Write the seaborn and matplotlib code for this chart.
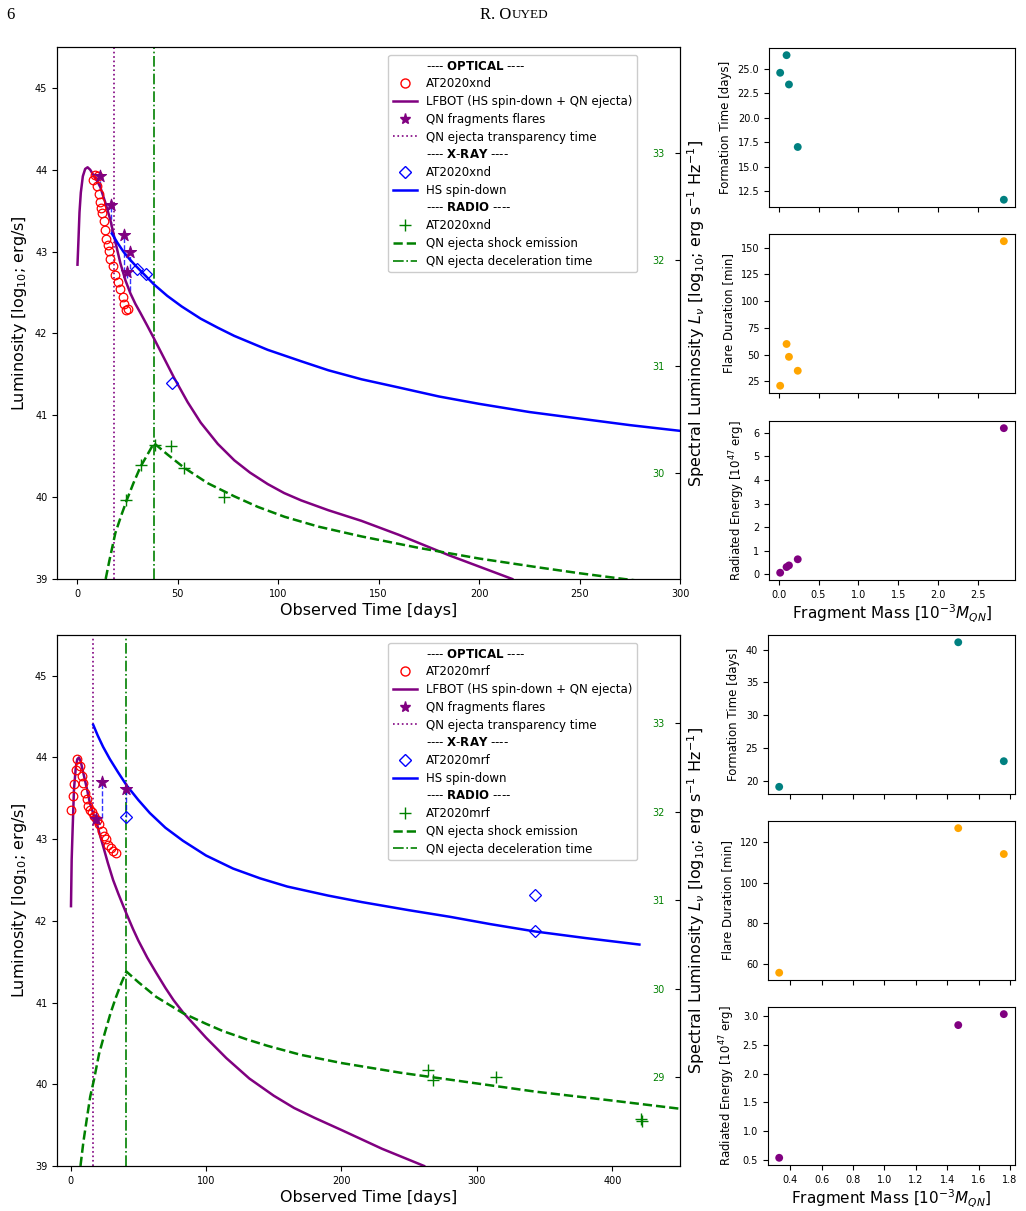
import matplotlib
matplotlib.use('Agg')
import matplotlib.pyplot as plt
from matplotlib.lines import Line2D
from matplotlib.ticker import MultipleLocator
import seaborn as sns

plt.rcParams['font.family'] = ['DejaVu Sans']

# ---------------- AT2020xnd (top) ----------------
xnd_lfbot_t = [0.17, 0.67, 1.17, 1.83, 2.83, 4.0, 5.2, 6.5, 8.2, 10.0, 11.5, 14.0, 16.5, 19.0, 21.5, 24.0,
               26.5, 29.0, 31.5, 35.0, 38.2, 43.0, 48.2, 55.0, 61.5, 70.0, 78.2, 86.0, 94.8, 103.0, 111.5,
               125.0, 141.5, 160, 185, 216.5]
xnd_lfbot_l = [42.84, 43.15, 43.48, 43.72, 43.92, 44.01, 44.03, 44.00, 43.93, 43.86, 43.79, 43.60, 43.39, 43.12, 42.86, 42.65,
               42.49, 42.36, 42.25, 42.09, 41.94, 41.71, 41.46, 41.16, 40.91, 40.65, 40.45, 40.30, 40.16, 40.05, 39.96,
               39.84, 39.71, 39.54, 39.29, 39.0]
xnd_hs_t = [17.3, 20, 23, 26, 29, 33, 38.2, 44.8, 52, 61.5, 70, 78.2, 94.8, 111.5, 125, 141.5,
            160, 180, 200, 225, 250, 275, 300]
xnd_hs_l = [43.22, 43.11, 43.00, 42.91, 42.83, 42.73, 42.60, 42.46, 42.33, 42.18, 42.07, 41.97, 41.80, 41.66, 41.55, 41.44,
            41.34, 41.23, 41.14, 41.04, 40.96, 40.88, 40.81]
xnd_shock_t = [14.2, 16, 19, 22, 24.8, 28, 31.5, 35, 38.2, 45, 53.2, 65, 78.2, 90, 103.2, 120, 141.5,
               170, 200, 230, 250, 272, 300]
xnd_shock_l = [39.0, 39.22, 39.56, 39.78, 39.97, 40.17, 40.37, 40.52, 40.66, 40.52, 40.36, 40.17, 40.01, 39.88, 39.76, 39.64, 39.52,
               39.38, 39.25, 39.14, 39.07, 39.0, 38.92]
xnd_opt_t = [7.8, 9.0, 10.2, 9.8, 10.7, 11.5, 11.8, 12.3, 13.2, 13.8, 14.5, 15.2, 15.8, 16.5, 17.8, 19.0,
             20.2, 21.5, 22.8, 23.5, 24.5, 25.3]
xnd_opt_l = [43.88, 43.93, 43.92, 43.80, 43.70, 43.60, 43.53, 43.47, 43.37, 43.26, 43.16, 43.08, 43.01, 42.91, 42.82, 42.71,
             42.63, 42.54, 42.45, 42.36, 42.29, 42.30]
xnd_xray_t = [29.8, 34.3, 47.0]
xnd_xray_l = [42.79, 42.73, 41.40]
xnd_radio_t = [24.5, 31.8, 38.5, 46.8, 53.2, 73.2]
xnd_radio_l = [39.97, 40.39, 40.64, 40.62, 40.35, 40.00]
xnd_flare_t = [24.6, 26.4, 23.4, 17.0, 11.6]
xnd_flare_l = [42.75, 43.00, 43.20, 43.57, 43.92]
xnd_flare_base = [42.68, 42.52, 42.75, 43.22, 43.80]
xnd_t_transp = 18.5
xnd_t_decel = 38.0
xnd_mass = [0.02, 0.10, 0.13, 0.24, 2.82]
xnd_form = [24.6, 26.4, 23.4, 17.0, 11.6]
xnd_dur = [21, 60, 48, 35, 156]
xnd_energy = [0.07, 0.31, 0.38, 0.64, 6.2]

# ---------------- AT2020mrf (bottom) ----------------
mrf_lfbot_t = [0.3, 0.8, 1.5, 2.5, 3.9, 5.0, 6.2, 7.5, 9.4, 12, 14.3, 17, 19.2, 21.5, 24.1, 27.5, 31.4,
               35.3, 38.7, 41.2, 46.1, 50, 56.6, 63, 70, 76, 83, 100, 115, 132, 150, 165, 180, 200, 230, 261]
mrf_lfbot_l = [42.18, 42.75, 43.12, 43.61, 43.89, 43.98, 44.00, 43.95, 43.81, 43.62, 43.44, 43.30, 43.20, 43.06, 42.91, 42.71, 42.50,
               42.33, 42.19, 42.09, 41.90, 41.76, 41.55, 41.37, 41.18, 41.03, 40.88, 40.57, 40.32, 40.07, 39.86, 39.71, 39.59,
               39.44, 39.21, 39.0]
mrf_hs_t = [16.7, 20, 24, 29, 35, 41.3, 50, 58.5, 70, 83, 100, 120, 140, 160, 190, 215, 250, 280, 310, 343, 380, 420]
mrf_hs_l = [44.40, 44.27, 44.13, 43.98, 43.82, 43.66, 43.48, 43.32, 43.14, 42.98, 42.80, 42.64, 42.52, 42.42, 42.31, 42.23,
            42.13, 42.05, 41.96, 41.87, 41.79, 41.71]
mrf_shock_t = [7.3, 9.5, 12.2, 14.5, 17.2, 21, 25.3, 29.5, 33.6, 37.5, 41.2, 50, 63.2, 83, 100, 112.6, 130, 145.5,
               170, 200, 244, 300, 343, 400, 450]
mrf_shock_l = [39.0, 39.30, 39.60, 39.85, 40.05, 40.37, 40.63, 40.87, 41.07, 41.24, 41.38, 41.25, 41.07, 40.87, 40.74, 40.65, 40.55, 40.47,
               40.36, 40.26, 40.14, 40.01, 39.91, 39.80, 39.70]
mrf_opt_t = [0.3, 1.5, 2.5, 3.7, 4.9, 6.9, 8.2, 9.4, 10.6, 11.9, 13.0, 14.3, 15.5, 17.2, 19.2, 21.1, 22.9, 24.6,
             26.1, 27.8, 29.7, 31.4, 33.4]
mrf_opt_l = [43.36, 43.53, 43.67, 43.85, 43.98, 43.90, 43.77, 43.69, 43.57, 43.49, 43.41, 43.36, 43.33, 43.28, 43.24, 43.18, 43.10, 43.04,
             43.00, 42.93, 42.89, 42.86, 42.83]
mrf_xray_t = [40.8, 342.7, 342.7]
mrf_xray_l = [43.27, 42.32, 41.87]
mrf_radio_t = [264.1, 267.3, 314.1, 421.4, 421.6]
mrf_radio_l = [40.18, 40.05, 40.09, 39.58, 39.55]
mrf_flare_t = [19.1, 41.1, 23.0]
mrf_flare_l = [43.25, 43.62, 43.70]
mrf_flare_base = [43.22, 43.27, 43.26]
mrf_t_transp = 16.5
mrf_t_decel = 40.8
mrf_mass = [0.33, 1.47, 1.76]
mrf_form = [19.1, 41.1, 23.0]
mrf_dur = [55.7, 126.7, 114]
mrf_energy = [0.54, 2.84, 3.03]


def draw_main(ax, name, lf_t, lf_l, hs_t, hs_l, sh_t, sh_l, op_t, op_l, xr_t, xr_l, rd_t, rd_l,
              fl_t, fl_l, fl_b, t_tr, t_dec, xlim, xticks, rlim):
    ax.axvline(t_tr, color='purple', linestyle=':', lw=1.2)
    ax.axvline(t_dec, color='green', linestyle='-.', lw=1.2)
    ax.vlines(fl_t, fl_b, fl_l, colors='blue', linestyles='--', lw=1, alpha=0.8)
    sns.lineplot(x=lf_t, y=lf_l, ax=ax, color='purple', lw=1.8, sort=False, estimator=None)
    sns.lineplot(x=hs_t, y=hs_l, ax=ax, color='blue', lw=1.8, sort=False, estimator=None)
    sns.lineplot(x=sh_t, y=sh_l, ax=ax, color='green', lw=1.8, linestyle='--', sort=False, estimator=None)
    ax.plot(op_t, op_l, 'o', ms=6.2, mfc='none', mec='red', mew=0.9)
    ax.plot(xr_t, xr_l, 'D', ms=6.5, mfc='none', mec='blue', mew=0.9)
    ax.plot(rd_t, rd_l, '+', ms=8, color='green', mew=1.0)
    sns.scatterplot(x=fl_t, y=fl_l, ax=ax, marker='*', s=85, color='purple', edgecolor='purple', zorder=5)

    ax.set_xlim(*xlim)
    ax.set_ylim(39, 45.5)
    ax.set_xticks(xticks)
    ax.set_yticks([39, 40, 41, 42, 43, 44, 45])
    ax.tick_params(labelsize=7)
    ax.set_xlabel('Observed Time [days]', fontsize=11.5, labelpad=3)
    ax.set_ylabel('Luminosity [log$_{10}$; erg/s]', fontsize=11.5)

    blank = Line2D([], [], linestyle='none')
    handles = [blank,
               Line2D([], [], linestyle='none', marker='o', mfc='none', mec='red', ms=6.5),
               Line2D([], [], color='purple', lw=1.8),
               Line2D([], [], linestyle='none', marker='*', color='purple', ms=8),
               Line2D([], [], color='purple', linestyle=':', lw=1.2),
               blank,
               Line2D([], [], linestyle='none', marker='D', mfc='none', mec='blue', ms=6.5),
               Line2D([], [], color='blue', lw=1.8),
               blank,
               Line2D([], [], linestyle='none', marker='+', color='green', ms=8),
               Line2D([], [], color='green', linestyle='--', lw=1.8),
               Line2D([], [], color='green', linestyle='-.', lw=1.2)]
    labels = ['---- $\\bf{OPTICAL}$ ----', name, 'LFBOT (HS spin-down + QN ejecta)', 'QN fragments flares',
              'QN ejecta transparency time', '---- $\\bf{X}$-$\\bf{RAY}$ ----', name, 'HS spin-down',
              '---- $\\bf{RADIO}$ ----', name, 'QN ejecta shock emission', 'QN ejecta deceleration time']
    ax.legend(handles, labels, loc='upper right', bbox_to_anchor=(0.931, 0.985), borderaxespad=0,
              fontsize=8.5, labelspacing=0.4, handlelength=2.0, framealpha=1)

    ax2 = ax.twinx()
    ax2.set_ylim(*rlim)
    ax2.set_yticks(list(range(int(rlim[0]) + 1, 34)))
    ax2.tick_params(axis='y', direction='in', pad=-20, labelcolor='green', labelsize=7)
    ax2.set_ylabel('Spectral Luminosity $L_\\nu$ [log$_{10}$; erg s$^{-1}$ Hz$^{-1}$]', fontsize=11.5)


def draw_side(axs, mass, form, dur, energy, dur_step):
    sns.scatterplot(x=mass, y=form, ax=axs[0], color='teal', s=32, edgecolor='none')
    sns.scatterplot(x=mass, y=dur, ax=axs[1], color='orange', s=32, edgecolor='none')
    sns.scatterplot(x=mass, y=energy, ax=axs[2], color='purple', s=32, edgecolor='none')
    axs[1].yaxis.set_major_locator(MultipleLocator(dur_step))
    axs[0].set_ylabel('Formation Time [days]', fontsize=8.5)
    axs[1].set_ylabel('Flare Duration [min]', fontsize=8.5)
    axs[2].set_ylabel('Radiated Energy [10$^{47}$ erg]', fontsize=8.5)
    axs[2].set_xlabel('Fragment Mass [10$^{-3}M_{QN}$]', fontsize=11, labelpad=2)
    for a in axs:
        a.tick_params(labelsize=7)
    for a in axs[:2]:
        a.tick_params(labelbottom=False)


fig = plt.figure(figsize=(10.26, 12.11), dpi=100)

ax_top = fig.add_axes([0.0556, 0.5219, 0.6072, 0.4393])
draw_main(ax_top, 'AT2020xnd', xnd_lfbot_t, xnd_lfbot_l, xnd_hs_t, xnd_hs_l, xnd_shock_t, xnd_shock_l,
          xnd_opt_t, xnd_opt_l, xnd_xray_t, xnd_xray_l, xnd_radio_t, xnd_radio_l,
          xnd_flare_t, xnd_flare_l, xnd_flare_base, xnd_t_transp, xnd_t_decel,
          (-10, 300), [0, 50, 100, 150, 200, 250, 300], (29, 34))

ax_bot = fig.add_axes([0.0556, 0.0372, 0.6072, 0.4385])
draw_main(ax_bot, 'AT2020mrf', mrf_lfbot_t, mrf_lfbot_l, mrf_hs_t, mrf_hs_l, mrf_shock_t, mrf_shock_l,
          mrf_opt_t, mrf_opt_l, mrf_xray_t, mrf_xray_l, mrf_radio_t, mrf_radio_l,
          mrf_flare_t, mrf_flare_l, mrf_flare_base, mrf_t_transp, mrf_t_decel,
          (-10, 450), [0, 100, 200, 300, 400], (28, 34))

s1 = fig.add_axes([0.7495, 0.8291, 0.2398, 0.1313])
s2 = fig.add_axes([0.7495, 0.6755, 0.2398, 0.1313], sharex=s1)
s3 = fig.add_axes([0.7495, 0.5211, 0.2398, 0.1313], sharex=s1)
draw_side([s1, s2, s3], xnd_mass, xnd_form, xnd_dur, xnd_energy, 25)

s4 = fig.add_axes([0.7485, 0.3443, 0.2408, 0.1313])
s5 = fig.add_axes([0.7485, 0.1908, 0.2408, 0.1313], sharex=s4)
s6 = fig.add_axes([0.7485, 0.0380, 0.2408, 0.1305], sharex=s4)
draw_side([s4, s5, s6], mrf_mass, mrf_form, mrf_dur, mrf_energy, 20)

fig.text(0.006, 0.9875, '6', fontsize=12, family='Liberation Serif', va='center')
fig.text(0.4985, 0.9875, 'R. O', fontsize=12, family='Liberation Serif', va='center', ha='right')
fig.text(0.4985, 0.9875, 'UYED', fontsize=9.5, family='Liberation Serif', va='center', ha='left')

fig.savefig('out.png', dpi=100)
